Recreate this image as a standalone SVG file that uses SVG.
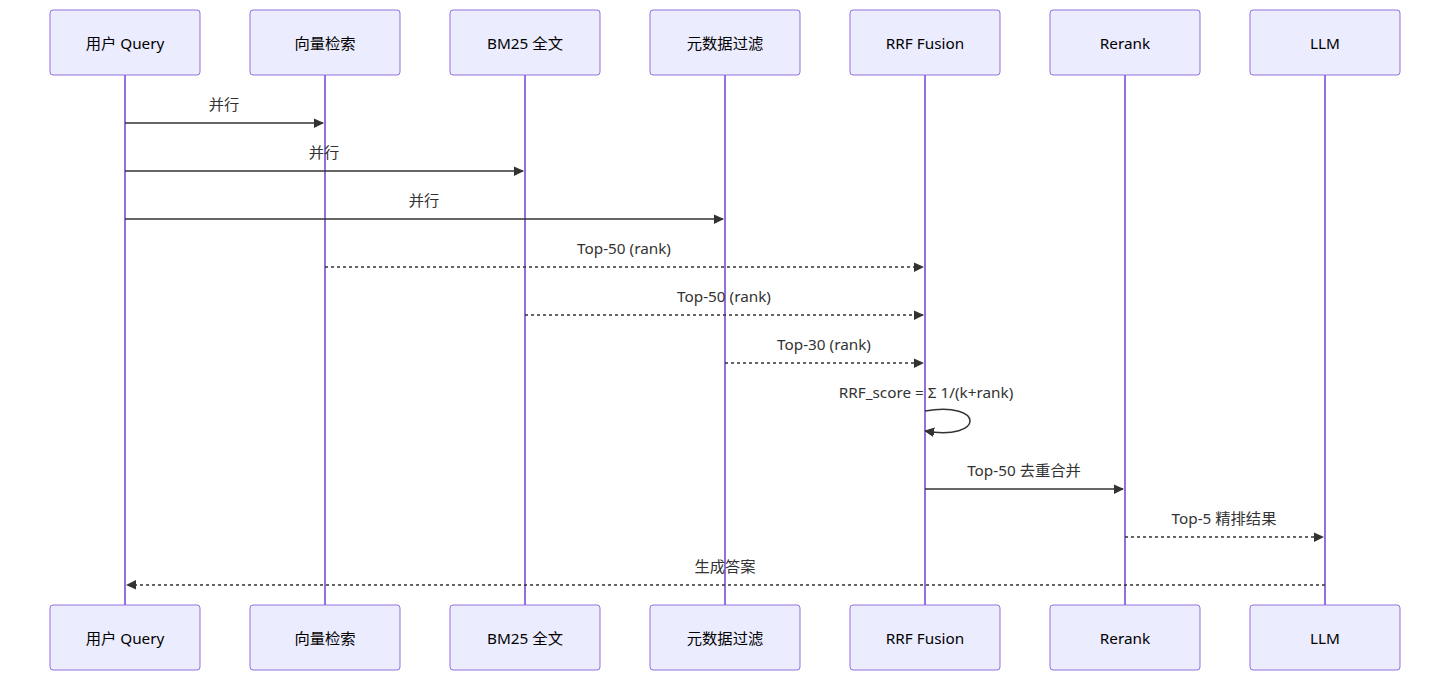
<svg xmlns="http://www.w3.org/2000/svg" width="1450" height="681" viewBox="0 0 1450 681">
<style>
.box{fill:#ECECFF;stroke:#9370DB;stroke-width:1;}
.life{stroke:#9370DB;stroke-width:2;fill:none;}
.t{font-family:"Noto Sans","Noto Sans CJK SC",sans-serif;font-size:15.3px;fill:#333;text-anchor:middle;dominant-baseline:central;}
.bt{font-family:"Noto Sans","Noto Sans CJK SC",sans-serif;font-size:15.3px;fill:#000;text-anchor:middle;dominant-baseline:central;}
.m{stroke:#333;stroke-width:1.5;fill:none;}
.d{stroke-dasharray:3,3;}
</style>
<defs>
<marker id="ah" markerUnits="userSpaceOnUse" markerWidth="12" markerHeight="12" refX="9" refY="5" orient="auto">
<path d="M -1 0 L 10 5 L 0 10 z" fill="#333"/>
</marker>
</defs>
<g id="lifelines">
<line class="life" x1="125" y1="75" x2="125" y2="605"/>
<line class="life" x1="325" y1="75" x2="325" y2="605"/>
<line class="life" x1="525" y1="75" x2="525" y2="605"/>
<line class="life" x1="725" y1="75" x2="725" y2="605"/>
<line class="life" x1="925" y1="75" x2="925" y2="605"/>
<line class="life" x1="1125" y1="75" x2="1125" y2="605"/>
<line class="life" x1="1325" y1="75" x2="1325" y2="605"/>
</g>
<g id="user"><rect class="box" x="50" y="10" width="150" height="65" rx="3"/><text class="bt" x="125" y="43">用户 Query</text></g>
<g id="vec"><rect class="box" x="250" y="10" width="150" height="65" rx="3"/><text class="bt" x="325" y="43">向量检索</text></g>
<g id="bm25"><rect class="box" x="450" y="10" width="150" height="65" rx="3"/><text class="bt" x="525" y="43">BM25 全文</text></g>
<g id="meta"><rect class="box" x="650" y="10" width="150" height="65" rx="3"/><text class="bt" x="725" y="43">元数据过滤</text></g>
<g id="rrf"><rect class="box" x="850" y="10" width="150" height="65" rx="3"/><text class="bt" x="925" y="43">RRF Fusion</text></g>
<g id="rerank"><rect class="box" x="1050" y="10" width="150" height="65" rx="3"/><text class="bt" x="1125" y="43">Rerank</text></g>
<g id="llm"><rect class="box" x="1250" y="10" width="150" height="65" rx="3"/><text class="bt" x="1325" y="43">LLM</text></g>
<g id="user-b"><rect class="box" x="50" y="605" width="150" height="65" rx="3"/><text class="bt" x="125" y="638">用户 Query</text></g>
<g id="vec-b"><rect class="box" x="250" y="605" width="150" height="65" rx="3"/><text class="bt" x="325" y="638">向量检索</text></g>
<g id="bm25-b"><rect class="box" x="450" y="605" width="150" height="65" rx="3"/><text class="bt" x="525" y="638">BM25 全文</text></g>
<g id="meta-b"><rect class="box" x="650" y="605" width="150" height="65" rx="3"/><text class="bt" x="725" y="638">元数据过滤</text></g>
<g id="rrf-b"><rect class="box" x="850" y="605" width="150" height="65" rx="3"/><text class="bt" x="925" y="638">RRF Fusion</text></g>
<g id="rerank-b"><rect class="box" x="1050" y="605" width="150" height="65" rx="3"/><text class="bt" x="1125" y="638">Rerank</text></g>
<g id="llm-b"><rect class="box" x="1250" y="605" width="150" height="65" rx="3"/><text class="bt" x="1325" y="638">LLM</text></g>
<g id="connectors">
<line class="m" x1="125" y1="123" x2="323" y2="123" marker-end="url(#ah)"/>
<text class="t" x="224" y="104">并行</text>
<line class="m" x1="125" y1="171" x2="523" y2="171" marker-end="url(#ah)"/>
<text class="t" x="324" y="152">并行</text>
<line class="m" x1="125" y1="219" x2="723" y2="219" marker-end="url(#ah)"/>
<text class="t" x="424" y="200">并行</text>
<line class="m d" x1="325" y1="267" x2="923" y2="267" marker-end="url(#ah)"/>
<text class="t" x="624" y="248">Top-50 (rank)</text>
<line class="m d" x1="525" y1="315" x2="923" y2="315" marker-end="url(#ah)"/>
<text class="t" x="724" y="296">Top-50 (rank)</text>
<line class="m d" x1="725" y1="363" x2="923" y2="363" marker-end="url(#ah)"/>
<text class="t" x="824" y="344">Top-30 (rank)</text>
<text class="t" x="926" y="392">RRF_score = Σ 1/(k+rank)</text>
<path class="m" d="M 925,411 C 985,401 985,441 925,431" marker-end="url(#ah)"/>
<line class="m" x1="925" y1="489" x2="1123" y2="489" marker-end="url(#ah)"/>
<text class="t" x="1024" y="470">Top-50 去重合并</text>
<line class="m d" x1="1125" y1="537" x2="1323" y2="537" marker-end="url(#ah)"/>
<text class="t" x="1224" y="518">Top-5 精排结果</text>
<line class="m d" x1="1325" y1="585" x2="127" y2="585" marker-end="url(#ah)"/>
<text class="t" x="725" y="566">生成答案</text>
</g>
</svg>
